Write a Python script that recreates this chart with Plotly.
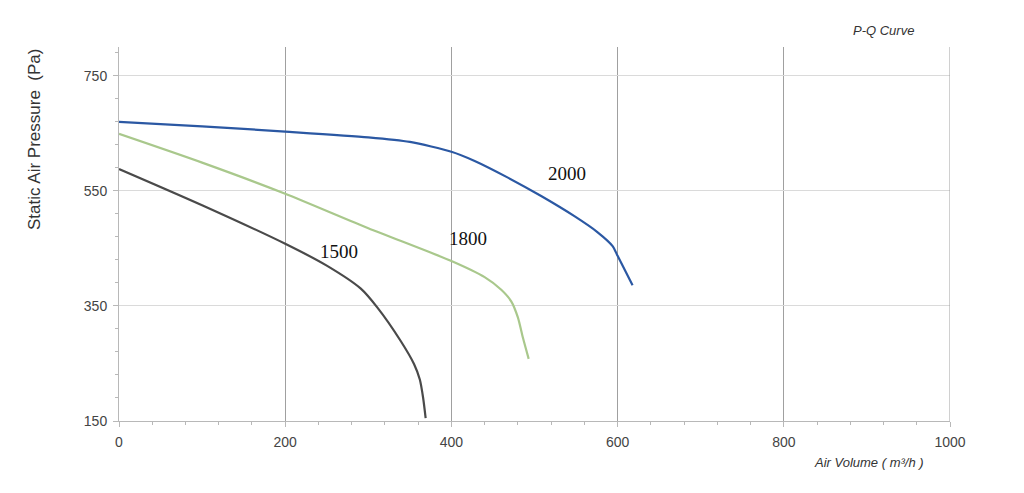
import plotly.graph_objects as go

# Data
q_2000 = [0, 100, 200, 300, 350, 400, 428, 468, 508, 548, 576, 594, 600, 618]
p_2000 = [670, 662, 653, 643, 635, 618, 602, 573, 541, 506, 478, 454, 437, 386]

q_1800 = [0, 100, 200, 300, 400, 440, 460, 472, 480, 486, 493]
p_1800 = [649, 599, 545, 485, 428, 400, 378, 358, 330, 295, 258]

q_1500 = [0, 100, 200, 250, 291, 311, 339, 355, 362, 366, 369]
p_1500 = [588, 525, 458, 420, 380, 347, 289, 249, 222, 190, 155]

series_names = ["1500", "1800", "2000"]
label_x = [265, 420, 539]
label_y = [444, 468, 581]

x_ticks = [0, 200, 400, 600, 800, 1000]
y_ticks = [150, 350, 550, 750]

fig = go.Figure()
for q, p, color in [(q_1500, p_1500, "#4a4a4a"), (q_1800, p_1800, "#a9c88c"), (q_2000, p_2000, "#2b58a3")]:
    fig.add_trace(go.Scatter(x=q, y=p, mode="lines",
                             line=dict(color=color, width=2.2, shape="spline", smoothing=0.7),
                             showlegend=False, hoverinfo="skip"))

for name, lx, ly in zip(series_names, label_x, label_y):
    fig.add_annotation(x=lx, y=ly, text=name, showarrow=False,
                       font=dict(family="Liberation Serif", size=19, color="#111"))

fig.add_annotation(xref="paper", yref="paper", x=0.959, y=1.043, xanchor="right", yanchor="middle",
                   text="<i>P-Q Curve</i>", showarrow=False,
                   font=dict(family="Liberation Sans", size=13, color="#333"))
fig.add_annotation(xref="paper", yref="paper", x=0.971, y=-0.112, xanchor="right", yanchor="middle",
                   text="<i>Air Volume ( m³/h )</i>", showarrow=False,
                   font=dict(family="Liberation Sans", size=13, color="#333"))
fig.add_annotation(xref="paper", yref="paper", x=-0.1023, y=0.754, xanchor="center", yanchor="middle",
                   textangle=-90, text="Static Air Pressure  (Pa)", showarrow=False,
                   font=dict(family="Liberation Sans", size=17, color="#333"))

fig.update_layout(
    width=1024, height=493,
    margin=dict(l=111, r=82, t=39, b=80),
    paper_bgcolor="white", plot_bgcolor="white",
    font=dict(family="Liberation Sans", size=14, color="#444"),
    xaxis=dict(range=[0, 1000], tickvals=x_ticks, showgrid=True, gridcolor="#a0a0a0", gridwidth=1,
               showline=True, linecolor="#b8b8b8", ticks="outside", ticklen=5, tickcolor="#b8b8b8",
               ticklabelstandoff=3,
               minor=dict(dtick=40, ticks="outside", ticklen=3, tickcolor="#b8b8b8", showgrid=False),
               zeroline=False),
    yaxis=dict(range=[150, 800], tickvals=y_ticks, showgrid=True, gridcolor="#dadada", gridwidth=1,
               showline=True, linecolor="#b8b8b8", ticks="outside", ticklen=5, tickcolor="#b8b8b8",
               ticklabelstandoff=3,
               minor=dict(tick0=150, dtick=40, ticks="outside", ticklen=3, tickcolor="#b8b8b8", showgrid=False),
               zeroline=False),
)

fig.add_shape(type="line", xref="x", yref="paper", x0=1000, x1=1000, y0=0, y1=1,
              line=dict(color="#a0a0a0", width=1))

fig.write_html("out.html")
